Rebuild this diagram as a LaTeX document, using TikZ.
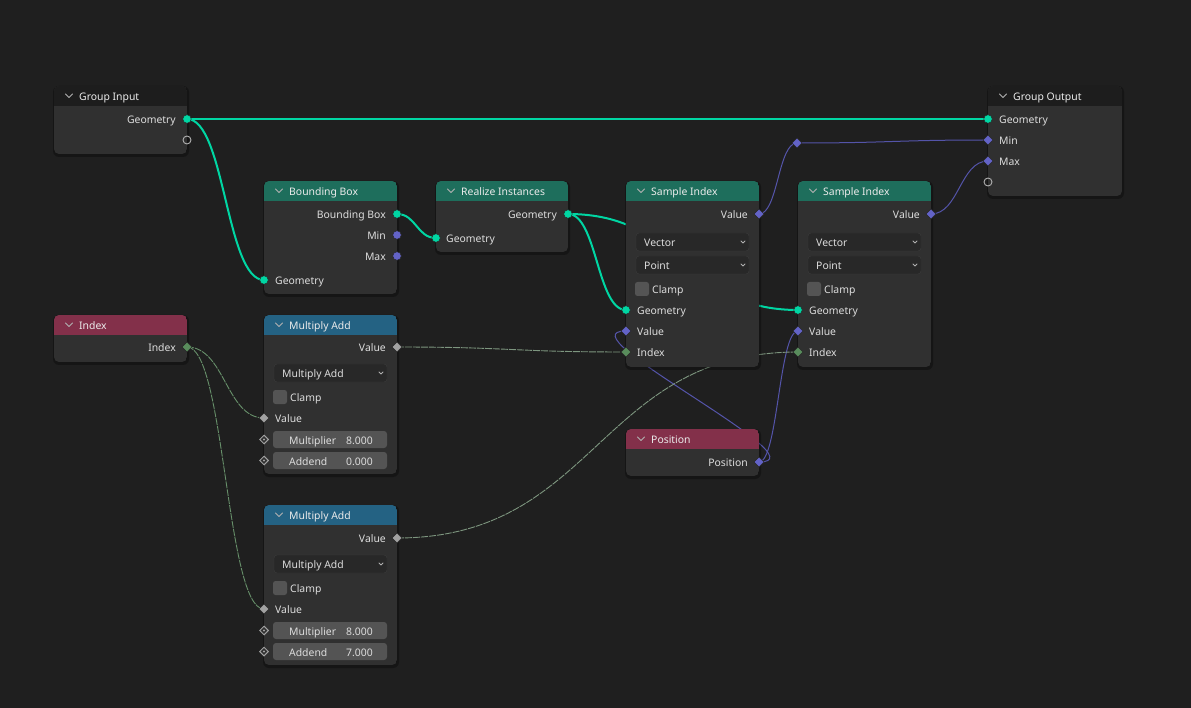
\documentclass[tikz,border=0pt]{standalone}
\usepackage{fontspec}
\setmainfont{Noto Sans}
\usetikzlibrary{shapes.geometric}
\pgfdeclarelayer{canvas}
\pgfdeclarelayer{links}
\pgfsetlayers{canvas,links,main}
\definecolor{bg}{HTML}{1F1F1F}
\definecolor{nbody}{HTML}{303030}
\definecolor{hgroup}{HTML}{1D1D1D}
\definecolor{hgeo}{HTML}{1E6E5C}
\definecolor{hinput}{HTML}{83304A}
\definecolor{hconv}{HTML}{246283}
\definecolor{cgeo}{HTML}{00D6A3}
\definecolor{cvec}{HTML}{6363C7}
\definecolor{cflt}{HTML}{A1A1A1}
\definecolor{cint}{HTML}{598C5C}
\definecolor{txt}{HTML}{DDDDDD}
\definecolor{ddbg}{HTML}{282828}
\definecolor{ddline}{HTML}{3C3C3C}
\definecolor{btn}{HTML}{545454}
\tikzset{
  lbl/.style={inner sep=0pt, text=txt, font=\fontsize{10.4}{12}\selectfont, text height=9pt, text depth=0pt},
  ttl/.style={lbl, anchor=west, text=white!92!black},
  chev/.style={draw=txt!80!black, line width=0.9pt, line cap=round, line join=round},
  sock/.style={inner sep=0pt, outer sep=0pt, draw=black!85, line width=0.5pt},
  sgeo/.style={sock, circle, fill=cgeo, minimum size=8.5pt},
  svec/.style={sock, diamond, fill=cvec, minimum size=10pt},
  sflt/.style={sock, diamond, fill=cflt, minimum size=10pt},
  sint/.style={sock, diamond, fill=cint, minimum size=10pt},
  shollow/.style={circle, draw=cflt!85, line width=0.9pt, minimum size=8pt, inner sep=0pt},
  sfield/.style={diamond, draw=cflt, fill=nbody, line width=1pt, minimum size=9pt, inner sep=0pt},
  lgeo/.style={draw=cgeo, line width=2pt},
  lvec/.style={draw=cvec!85!black, line width=1pt},
  lfield/.style={line width=0.9pt, dash pattern=on 7pt off 1pt},
}
\newcommand\nodebox[7]{%
  \fill[black, opacity=0.3, rounded corners=6pt] (#2-1,#3) rectangle (#4+2,#5+3);
  \begin{scope}
    \clip[rounded corners=5pt] (#2,#3) rectangle (#4,#5);
    \fill[nbody] (#2,#3) rectangle (#4,#5);
    \fill[#6] (#2,#3) rectangle (#4,#3+20);
  \end{scope}
  \coordinate (#1) at (#2,#3);
  \draw[chev] (#2+11.5,#3+8) -- (#2+15,#3+11.5) -- (#2+18.5,#3+8);
  \node[ttl] (#1-title) at (#2+25,#3+10) {#7};
}
\newcommand\ddown[5]{% name x1 x2 yc text
  \draw[ddline, fill=ddbg, rounded corners=3pt] (#2,#4-9) rectangle (#3,#4+9);
  \node[lbl, anchor=west] (#1) at (#2+8,#4) {#5};
  \draw[chev, line width=0.8pt] (#3-8,#4-1) -- (#3-6,#4+1) -- (#3-4,#4-1);
}
\newcommand\clampbox[3]{% name x1 yc
  \fill[btn, rounded corners=2.5pt] (#2+9,#3-7) rectangle (#2+23,#3+7);
  \node[lbl, anchor=west] (#1) at (#2+26,#3) {Clamp};
}
\newcommand\field[6]{% name x1 x2 yc label value
  \fill[btn, rounded corners=3pt] (#2+9,#4-8.5) rectangle (#3-10,#4+8.5);
  \node[lbl, anchor=west] (#1-l) at (#2+25,#4) {#5};
  \node[lbl, anchor=east] (#1-v) at (#3-24,#4) {#6};
}
\begin{document}
\begin{tikzpicture}[x=1pt,y=-1pt]
\begin{pgfonlayer}{canvas}
\fill[bg] (0,0) rectangle (1191,708);
\end{pgfonlayer}
\useasboundingbox (0,0) rectangle (1191,708);

% ---------- Group Input
\nodebox{gi}{54}{86}{187}{154}{hgroup}{Group Input}
\node[lbl, anchor=east] at (176,119) {Geometry};
\node[sgeo] (gi-geo) at (187,119) {};
\node[shollow] (gi-empty) at (187,140) {};

% ---------- Group Output
\nodebox{go}{988}{86}{1122}{196}{hgroup}{Group Output}
\node[lbl, anchor=west] at (999,119) {Geometry};
\node[lbl, anchor=west] at (999,140) {Min};
\node[lbl, anchor=west] at (999,161) {Max};
\node[sgeo] (go-geo) at (988,119) {};
\node[svec] (go-min) at (988,140) {};
\node[svec] (go-max) at (988,161) {};
\node[shollow] (go-empty) at (988,182) {};

% ---------- Bounding Box
\nodebox{bb}{264}{181}{397}{294}{hgeo}{Bounding Box}
\node[lbl, anchor=east] at (386,214) {Bounding Box};
\node[lbl, anchor=east] at (386,235) {Min};
\node[lbl, anchor=east] at (386,256) {Max};
\node[lbl, anchor=west] at (275,280) {Geometry};
\node[sgeo] (bb-box) at (397,214) {};
\node[sock, circle, fill=cvec, minimum size=8.5pt] (bb-min) at (397,235) {};
\node[sock, circle, fill=cvec, minimum size=8.5pt] (bb-max) at (397,256) {};
\node[sgeo] (bb-gin) at (264,280) {};

% ---------- Realize Instances
\nodebox{ri}{436}{181}{568}{252}{hgeo}{Realize Instances}
\node[lbl, anchor=east] at (557,214) {Geometry};
\node[lbl, anchor=west] at (446,238) {Geometry};
\node[sgeo] (ri-gout) at (568,214) {};
\node[sgeo] (ri-gin) at (436,238) {};

% ---------- Sample Index 1
\nodebox{sa}{626}{181}{759}{367}{hgeo}{Sample Index}
\node[lbl, anchor=east] at (748,214) {Value};
\ddown{sa-type}{636}{749}{242}{Vector}
\ddown{sa-dom}{636}{749}{265}{Point}
\clampbox{sa-clamp}{626}{289}
\node[lbl, anchor=west] at (637,310) {Geometry};
\node[lbl, anchor=west] at (637,331) {Value};
\node[lbl, anchor=west] at (637,352) {Index};
\node[svec] (sa-vout) at (759,214) {};
\node[sgeo] (sa-geo) at (626,310) {};
\node[svec] (sa-vin) at (626,331) {};
\node[sint] (sa-idx) at (626,352) {};

% ---------- Sample Index 2
\nodebox{sb}{798}{181}{931}{367}{hgeo}{Sample Index}
\node[lbl, anchor=east] at (920,214) {Value};
\ddown{sb-type}{808}{921}{242}{Vector}
\ddown{sb-dom}{808}{921}{265}{Point}
\clampbox{sb-clamp}{798}{289}
\node[lbl, anchor=west] at (809,310) {Geometry};
\node[lbl, anchor=west] at (809,331) {Value};
\node[lbl, anchor=west] at (809,352) {Index};
\node[svec] (sb-vout) at (931,214) {};
\node[sgeo] (sb-geo) at (798,310) {};
\node[svec] (sb-vin) at (798,331) {};
\node[sint] (sb-idx) at (798,352) {};

% ---------- Reroute
\node[svec] (rr) at (797,143) {};

% ---------- Index
\nodebox{ix}{54}{315}{187}{362}{hinput}{Index}
\node[lbl, anchor=east] at (176,347) {Index};
\node[sint] (ix-out) at (187,347) {};

% ---------- Multiply Add 1
\nodebox{ma}{264}{315}{397}{474}{hconv}{Multiply Add}
\node[lbl, anchor=east] at (386,347) {Value};
\ddown{ma-op}{274}{387}{373}{Multiply Add}
\clampbox{ma-clamp}{264}{397}
\node[lbl, anchor=west] at (275,418) {Value};
\field{ma-mul}{264}{397}{439.5}{Multiplier}{8.000}
\field{ma-add}{264}{397}{460.5}{Addend}{0.000}
\node[sflt] (ma-vout) at (397,347) {};
\node[sflt] (ma-vin) at (264,418) {};
\node[sfield] (ma-m) at (264,439.5) {};
\fill[cflt] (ma-m) circle (1.2);
\node[sfield] (ma-a) at (264,460.5) {};
\fill[cflt] (ma-a) circle (1.2);

% ---------- Multiply Add 2
\nodebox{mb}{264}{505}{397}{665}{hconv}{Multiply Add}
\node[lbl, anchor=east] at (386,538) {Value};
\ddown{mb-op}{274}{387}{564}{Multiply Add}
\clampbox{mb-clamp}{264}{588}
\node[lbl, anchor=west] at (275,609) {Value};
\field{mb-mul}{264}{397}{630.5}{Multiplier}{8.000}
\field{mb-add}{264}{397}{651.5}{Addend}{7.000}
\node[sflt] (mb-vout) at (397,538) {};
\node[sflt] (mb-vin) at (264,609) {};
\node[sfield] (mb-m) at (264,630.5) {};
\fill[cflt] (mb-m) circle (1.2);
\node[sfield] (mb-a) at (264,651.5) {};
\fill[cflt] (mb-a) circle (1.2);

% ---------- Position
\nodebox{po}{626}{429}{759}{476}{hinput}{Position}
\node[lbl, anchor=east] at (748,462) {Position};
\node[svec] (po-out) at (759,462) {};

% ---------- Links
\begin{pgfonlayer}{links}
\draw[lgeo] (gi-geo.center) -- (go-geo.center);
\draw[lgeo] (gi-geo.center) .. controls +(38,0) and +(-38,0) .. (bb-gin.center);
\draw[lgeo] (bb-box.center) .. controls +(19,0) and +(-19,0) .. (ri-gin.center);
\draw[lgeo] (ri-gout.center) .. controls +(29,0) and +(-29,0) .. (sa-geo.center);
\draw[lgeo] (ri-gout.center) .. controls +(115,0) and +(-115,0) .. (sb-geo.center);
\draw[lvec] (sa-vout.center) .. controls +(19,0) and +(-19,0) .. (rr.center);
\draw[lvec] (rr.center) .. controls +(95,0) and +(-95,0) .. (go-min.center);
\draw[lvec] (sb-vout.center) .. controls +(28,0) and +(-28,0) .. (go-max.center);
\draw[lvec] (po-out.center) .. controls +(67,0) and +(-67,0) .. (sa-vin.center);
\draw[lvec] (po-out.center) .. controls +(19,0) and +(-19,0) .. (sb-vin.center);
\draw[lfield, draw=cint!80!cflt] (ix-out.center) .. controls +(38,0) and +(-38,0) .. (ma-vin.center);
\draw[lfield, draw=cint!80!cflt] (ix-out.center) .. controls +(38,0) and +(-38,0) .. (mb-vin.center);
\draw[lfield, draw=cflt!50!cint] (ma-vout.center) .. controls +(115,0) and +(-115,0) .. (sa-idx.center);
\draw[lfield, draw=cflt!50!cint] (mb-vout.center) .. controls +(200,0) and +(-200,0) .. (sb-idx.center);
\end{pgfonlayer}
\end{tikzpicture}
\end{document}
